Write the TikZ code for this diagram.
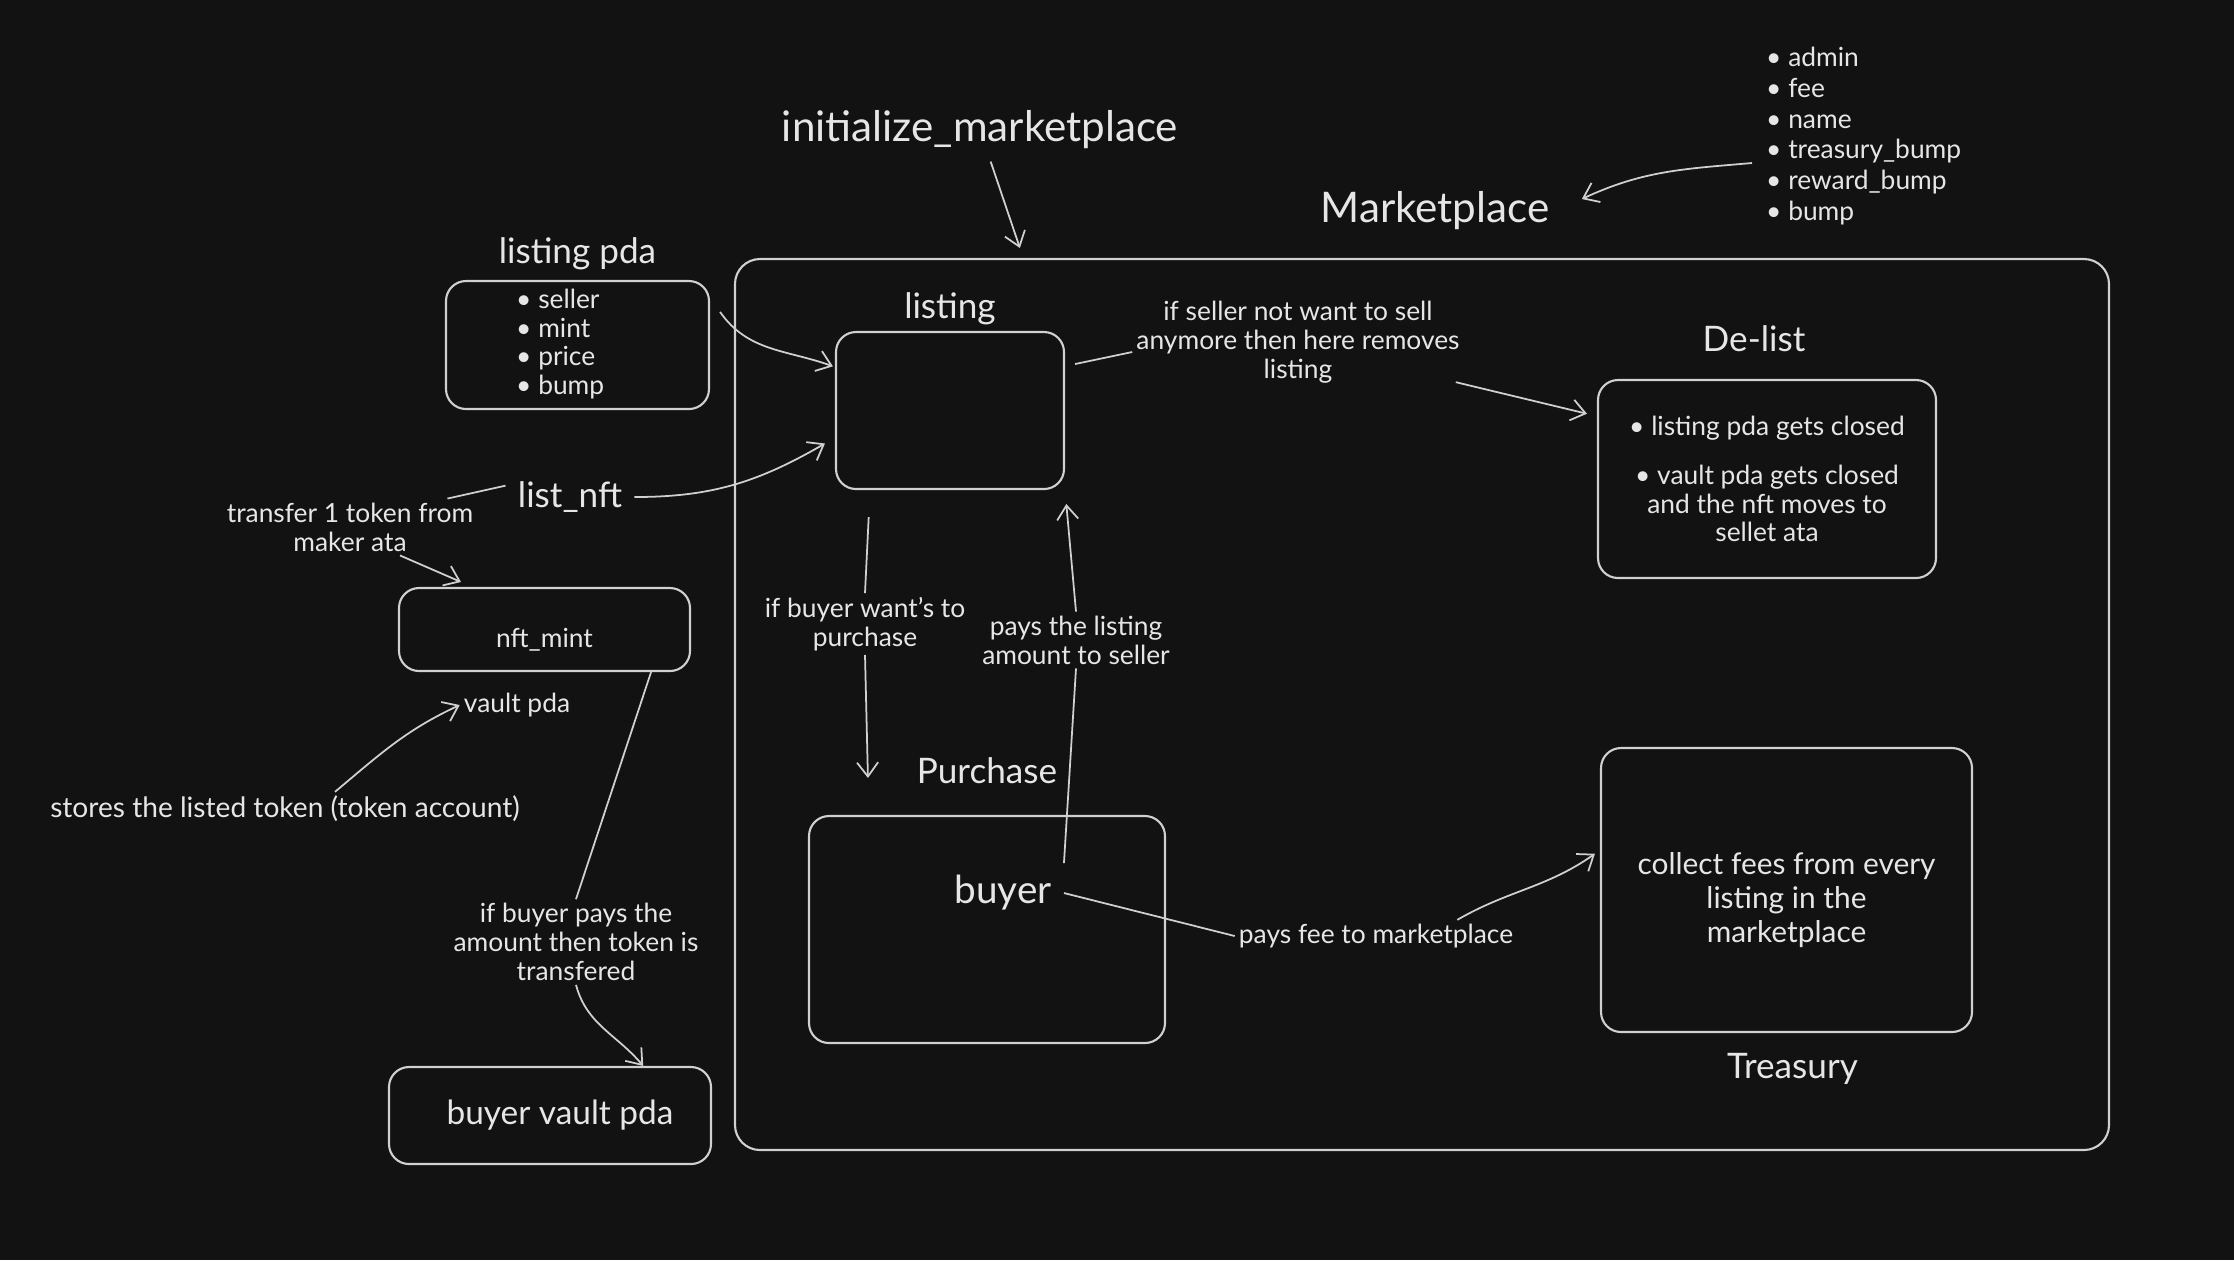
\documentclass[tikz,border=0pt]{standalone}
\usepackage{fontspec}
\setmainfont{Lato}
\usetikzlibrary{arrows.meta, positioning}
\definecolor{bgcolor}{RGB}{18,18,18}
\definecolor{inkcolor}{RGB}{230,230,230}
\definecolor{linecolor}{RGB}{208,208,208}
\tikzset{
  box/.style={
    rectangle,
    rounded corners=0.2cm,
    draw=linecolor,
    line width=0.6pt,
    text=inkcolor,
    align=center,
    inner sep=0pt
  },
  title/.style={
    text=inkcolor,
    font=\fontsize{12}{14}\selectfont
  },
  heading/.style={
    text=inkcolor,
    font=\fontsize{10}{12}\selectfont
  },
  note/.style={
    text=inkcolor,
    align=center,
    inner sep=1pt,
    font=\fontsize{7.5}{8.2}\selectfont
  },
  arrow/.style={
    -{Straight Barb[length=4pt,width=6pt]},
    draw=linecolor,
    line width=0.5pt
  },
  link/.style={
    draw=linecolor,
    line width=0.5pt
  }
}

\begin{document}
\begin{tikzpicture}

% Canvas
\fill[bgcolor] (0,0) rectangle (22.34,-12.60);
\useasboundingbox (0,0) rectangle (22.34,-12.60);

% Marketplace frame
\node[box, rounded corners=0.25cm, minimum width=13.74cm, minimum height=8.91cm] (market) at (14.22,-7.045) {};

\node[title] (init) at (9.80,-1.30) {initialize\_marketplace};
\node[title] (mktname) at (14.35,-2.11) {Marketplace};
\node[note, align=left, anchor=west, font=\fontsize{7.5}{8.8}\selectfont] (mktfields) at (17.62,-1.36) {
  \textbullet\ admin \\
  \textbullet\ fee \\
  \textbullet\ name \\
  \textbullet\ treasury\_bump \\
  \textbullet\ reward\_bump \\
  \textbullet\ bump
};

% Listing side
\node[box, minimum width=2.63cm, minimum height=1.28cm] (pdabox) at (5.775,-3.45) {};
\node[note, align=left, anchor=west] (pdafields) at (5.12,-3.44) {
  \textbullet\ seller \\
  \textbullet\ mint \\
  \textbullet\ price \\
  \textbullet\ bump
};
\node[heading, above=-0.02cm of pdabox] (pdaname) {listing pda};

\node[box, minimum width=2.28cm, minimum height=1.57cm] (listbox) at (9.50,-4.105) {};
\node[heading, above=-0.06cm of listbox] (listname) {listing};

\node[heading] (listnft) at (5.70,-4.97) {list\_nft};
\node[note] (transfer) at (3.50,-5.27) {transfer 1 token from \\ maker ata};
\node[box, minimum width=2.91cm, minimum height=0.83cm, font=\fontsize{7.5}{9}\selectfont, text height=0.4cm] (mintbox) at (5.445,-6.295) {nft\_mint};
\node[note] (vaultname) at (5.17,-7.05) {vault pda};
\node[note, font=\fontsize{8}{9}\selectfont] (stores) at (2.85,-8.09) {stores the listed token (token account)};
\node[note] (tokennote) at (5.76,-9.42) {if buyer pays the \\ amount then token is \\ transfered};
\node[box, minimum width=3.22cm, minimum height=0.97cm, font=\fontsize{9.5}{11}\selectfont] (vaultbox) at (5.50,-11.155) {\hspace*{0.2cm}buyer vault pda};

% De-list
\node[note] (sellnote) at (12.98,-3.42) {if seller not want to sell \\ anymore then here removes \\ listing};
\node[box, minimum width=3.38cm, minimum height=1.98cm, font=\fontsize{7.5}{8.2}\selectfont] (delistbox) at (17.67,-4.79) {
  \textbullet\ listing pda gets closed \\[0.2cm]
  \textbullet\ vault pda gets closed \\
  and the nft moves to \\
  sellet ata
};
\node[heading, above=0.15cm of delistbox, xshift=-0.13cm] (delistname) {De-list};

% Purchase
\node[note] (buynote) at (8.65,-6.24) {if buyer want's to \\ purchase};
\node[note] (paynote) at (10.76,-6.40) {pays the listing \\ amount to seller};
\node[box, minimum width=3.56cm, minimum height=2.27cm] (buyerbox) at (9.87,-9.295) {};
\node[heading, font=\fontsize{11}{13}\selectfont] (buyer) at (10.03,-8.93) {buyer};
\node[heading, above=0.19cm of buyerbox] (purchname) {Purchase};

% Treasury
\node[note] (feenote) at (13.76,-9.36) {pays fee to marketplace};
\node[box, minimum width=3.71cm, minimum height=2.84cm, font=\fontsize{8.5}{9.7}\selectfont] (treasbox) at (17.865,-8.90) {
  \rule{0pt}{0.42cm}collect fees from every \\
  listing in the \\
  marketplace
};
\node[heading, below=0.08cm of treasbox, xshift=0.06cm] (treasname) {Treasury};

% Connectors
\draw[arrow] (init) -- ([yshift=0.1cm]market.132);
\draw[arrow] ([xshift=-0.1cm,yshift=-0.27cm]mktfields.west) to[out=185,in=25] ([xshift=0.2cm,yshift=0.12cm]mktname.east);
\draw[arrow] ([xshift=0.1cm]pdabox.14) to[out=-55,in=160] ([xshift=-0.02cm]listbox.159);
\draw[arrow] (listnft.east) to[out=0,in=210] ([xshift=-0.1cm]listbox.196);
\draw[link] (listnft.170) -- ([xshift=-0.3cm]transfer.north east);
\draw[arrow] ([xshift=0.5cm]transfer.south) -- ([yshift=0.05cm]mintbox.153);
\draw[arrow] ([xshift=0.5cm]stores.north) to[out=40,in=205] (vaultname.west);
\draw[link] ([xshift=-0.4cm]mintbox.south east) -- (tokennote.north);
\draw[arrow] (tokennote.south) to[out=-75,in=130] (vaultbox.28);

% Listing to De-list
\draw[link] ([xshift=0.1cm]listbox.22) -- ([yshift=-0.1cm]sellnote.west);
\draw[arrow] ([xshift=-0.08cm,yshift=0.05cm]sellnote.south east) -- ([xshift=-0.1cm]delistbox.159);

% Purchase flow
\draw[link, shorten <=0.27cm] ([xshift=-0.8cm]listbox.south) -- (buynote.north);
\draw[arrow] (buynote.south) -- ([xshift=0.6cm,yshift=0.37cm]buyerbox.north west);
\draw[link] (buyer.north east) -- (paynote.south);
\draw[arrow, shorten >=0.14cm] (paynote.north) -- (listbox.south east);
\draw[link] (buyer.east) -- (feenote.west);
\draw[arrow] ([xshift=-0.6cm]feenote.north east) to[out=30,in=215] ([xshift=-0.05cm]treasbox.169);

\end{tikzpicture}
\end{document}
